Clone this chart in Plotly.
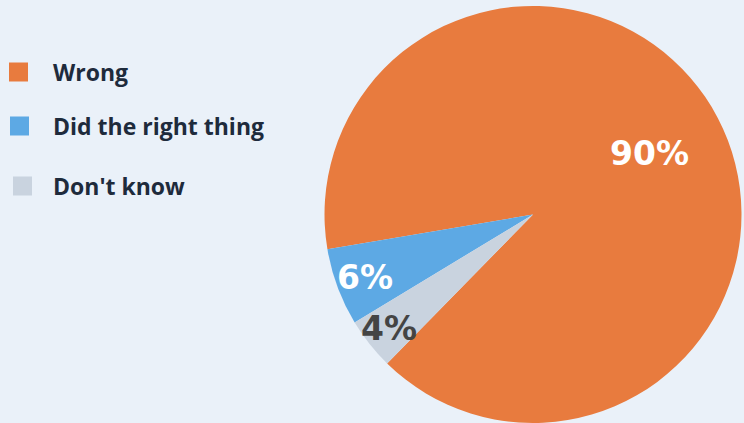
import math
import plotly.graph_objects as go

labels = ["Wrong", "Did the right thing", "Don't know"]
values = [90, 6, 4]
colors = ["#E87B3E", "#5DA9E4", "#C9D3DF"]
text_colors = ["#FFFFFF", "#FFFFFF", "#444444"]
label_radius = [0.63, 0.86, 0.88]

W, H = 744, 423
T, B = 6, 0
ph = H - T - B
ROT = 260.4

def px_x(x):
    return x / W

def px_y(y):
    return (H - B - y) / ph

R = ph / 2
cx = 533
cy = T + R
fig = go.Figure(go.Pie(
    labels=labels, values=values, sort=False,
    direction="counterclockwise", rotation=ROT,
    marker=dict(colors=colors, line=dict(width=0)),
    textinfo="none",
    domain=dict(x=[px_x(cx - R), px_x(cx + R)], y=[0, 1]),
    showlegend=False, hoverinfo="label+percent",
))

shapes = []
annotations = []

# percentage labels at slice mid-angles (angles clockwise from 12 o'clock)
total = sum(values)
cum = 0.0
for i, v in enumerate(values):
    a = 360.0 * v / total
    if i == 0:
        mid = ROT + a / 2
    else:
        mid = ROT - cum - a / 2
        cum += a
    rad = math.radians(mid)
    x = cx + label_radius[i] * R * math.sin(rad)
    y = cy - label_radius[i] * R * math.cos(rad)
    annotations.append(dict(xref="paper", yref="paper", x=px_x(x), y=px_y(y),
                            xanchor="center", yanchor="middle", showarrow=False,
                            text=f"{100 * v / total:.0f}%",
                            font=dict(family="DejaVu Sans", size=33, color=text_colors[i], weight="bold")))

# custom legend
leg_y = [72, 126, 186]
leg_x = [9, 10, 13]
for i, lab in enumerate(labels):
    s = 19
    shapes.append(dict(type="rect", xref="paper", yref="paper",
                       x0=px_x(leg_x[i]), x1=px_x(leg_x[i] + s),
                       y0=px_y(leg_y[i] + s / 2), y1=px_y(leg_y[i] - s / 2),
                       fillcolor=colors[i], line=dict(width=0)))
    annotations.append(dict(xref="paper", yref="paper", x=px_x(51), y=px_y(leg_y[i]),
                            xanchor="left", yanchor="middle", showarrow=False,
                            text=lab, font=dict(family="Open Sans", size=23, color="#1E2B3C", weight="bold")))

fig.update_layout(
    width=W, height=H,
    margin=dict(l=0, r=0, t=T, b=B),
    paper_bgcolor="#EAF1F9", plot_bgcolor="#EAF1F9",
    shapes=shapes, annotations=annotations,
)
fig.write_html("out.html")
